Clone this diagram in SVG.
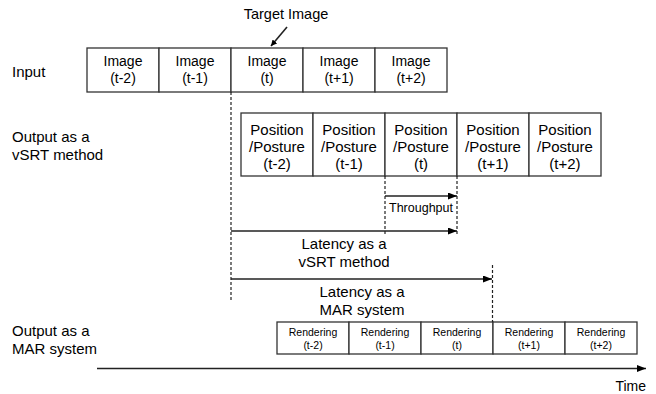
<svg xmlns="http://www.w3.org/2000/svg" width="656" height="394" viewBox="0 0 656 394">
<style>
text{font-family:"Liberation Sans",Arial,sans-serif;fill:#000}
.lbl{font-size:15px}
.bt{font-size:14px;text-anchor:middle}
.pt{font-size:15px;text-anchor:middle}
.rt{font-size:10.5px;text-anchor:middle}
.box{fill:#fff;stroke:#333;stroke-width:1.3}
.ln{stroke:#222;stroke-width:1.6;fill:none}
.dash{stroke:#222;stroke-width:1.2;stroke-dasharray:3,2;fill:none}
</style>
<defs>
<marker id="ah" viewBox="0 0 10 10" refX="10" refY="5" markerWidth="6" markerHeight="6" orient="auto" markerUnits="userSpaceOnUse">
<path d="M0,0L10,5L0,10z" fill="#000"/>
</marker>
<marker id="ah2" viewBox="0 0 10 10" refX="10" refY="5" markerWidth="9" markerHeight="7" orient="auto" markerUnits="userSpaceOnUse" preserveAspectRatio="none">
<path d="M0,0L10,5L0,10z" fill="#000"/>
</marker>
</defs>

<g id="row-labels">
<text class="lbl" x="12" y="77">Input</text>
<text class="lbl" x="12" y="142">Output as a</text>
<text class="lbl" x="12" y="160">vSRT method</text>
<text class="lbl" x="12" y="336">Output as a</text>
<text class="lbl" x="12" y="354">MAR system</text>
</g>

<g id="target-label">
<text x="286" y="19" font-size="14.5" text-anchor="middle">Target Image</text>
</g>

<g id="input-images">
<g id="img-tm2"><rect class="box" x="87" y="48" width="72" height="44"/><text class="bt" x="123" y="66">Image</text><text class="bt" x="123" y="83">(t-2)</text></g>
<g id="img-tm1"><rect class="box" x="159" y="48" width="72" height="44"/><text class="bt" x="195" y="66">Image</text><text class="bt" x="195" y="83">(t-1)</text></g>
<g id="img-t"><rect class="box" x="231" y="48" width="72" height="44"/><text class="bt" x="267" y="66">Image</text><text class="bt" x="267" y="83">(t)</text></g>
<g id="img-tp1"><rect class="box" x="303" y="48" width="72" height="44"/><text class="bt" x="339" y="66">Image</text><text class="bt" x="339" y="83">(t+1)</text></g>
<g id="img-tp2"><rect class="box" x="375" y="48" width="72" height="44"/><text class="bt" x="411" y="66">Image</text><text class="bt" x="411" y="83">(t+2)</text></g>
</g>

<g id="pose-outputs">
<g id="pose-tm2"><rect class="box" x="241" y="113" width="72" height="63"/><text class="pt" x="277" y="135">Position</text><text class="pt" x="277" y="152">/Posture</text><text class="pt" x="277" y="169">(t-2)</text></g>
<g id="pose-tm1"><rect class="box" x="313" y="113" width="72" height="63"/><text class="pt" x="349" y="135">Position</text><text class="pt" x="349" y="152">/Posture</text><text class="pt" x="349" y="169">(t-1)</text></g>
<g id="pose-t"><rect class="box" x="385" y="113" width="72" height="63"/><text class="pt" x="421" y="135">Position</text><text class="pt" x="421" y="152">/Posture</text><text class="pt" x="421" y="169">(t)</text></g>
<g id="pose-tp1"><rect class="box" x="457" y="113" width="72" height="63"/><text class="pt" x="493" y="135">Position</text><text class="pt" x="493" y="152">/Posture</text><text class="pt" x="493" y="169">(t+1)</text></g>
<g id="pose-tp2"><rect class="box" x="529" y="113" width="72" height="63"/><text class="pt" x="565" y="135">Position</text><text class="pt" x="565" y="152">/Posture</text><text class="pt" x="565" y="169">(t+2)</text></g>
</g>

<g id="render-outputs">
<g id="rend-tm2"><rect class="box" x="277" y="322" width="72" height="32"/><text class="rt" x="313" y="336">Rendering</text><text class="rt" x="313" y="349">(t-2)</text></g>
<g id="rend-tm1"><rect class="box" x="349" y="322" width="72" height="32"/><text class="rt" x="385" y="336">Rendering</text><text class="rt" x="385" y="349">(t-1)</text></g>
<g id="rend-t"><rect class="box" x="421" y="322" width="72" height="32"/><text class="rt" x="457" y="336">Rendering</text><text class="rt" x="457" y="349">(t)</text></g>
<g id="rend-tp1"><rect class="box" x="493" y="322" width="72" height="32"/><text class="rt" x="529" y="336">Rendering</text><text class="rt" x="529" y="349">(t+1)</text></g>
<g id="rend-tp2"><rect class="box" x="565" y="322" width="72" height="32"/><text class="rt" x="601" y="336">Rendering</text><text class="rt" x="601" y="349">(t+2)</text></g>
</g>

<g id="connectors">
<line class="ln" x1="287" y1="27" x2="271" y2="46" marker-end="url(#ah)"/>
<line class="dash" x1="231" y1="92" x2="231" y2="301"/>
<line class="dash" x1="385" y1="176" x2="385" y2="235"/>
<line class="dash" x1="457" y1="176" x2="457" y2="235"/>
<line class="dash" x1="492.5" y1="265" x2="492.5" y2="322"/>
<line class="ln" x1="385" y1="196" x2="457" y2="196" marker-end="url(#ah2)"/>
<line class="ln" x1="231" y1="231" x2="457" y2="231" marker-end="url(#ah2)"/>
<line class="ln" x1="231" y1="279" x2="492" y2="279" marker-end="url(#ah2)"/>
<line class="ln" x1="97" y1="368.5" x2="646" y2="368.5" stroke-width="2" marker-end="url(#ah2)"/>
</g>

<g id="connector-labels">
<text x="421" y="212" font-size="12.5" text-anchor="middle">Throughput</text>
<text class="lbl" x="344" y="249" text-anchor="middle">Latency as a</text>
<text class="lbl" x="344" y="267" text-anchor="middle">vSRT method</text>
<text class="lbl" x="362" y="297" text-anchor="middle">Latency as a</text>
<text class="lbl" x="362" y="315" text-anchor="middle">MAR system</text>
<text x="646" y="391" font-size="14" text-anchor="end">Time</text>
</g>
</svg>
